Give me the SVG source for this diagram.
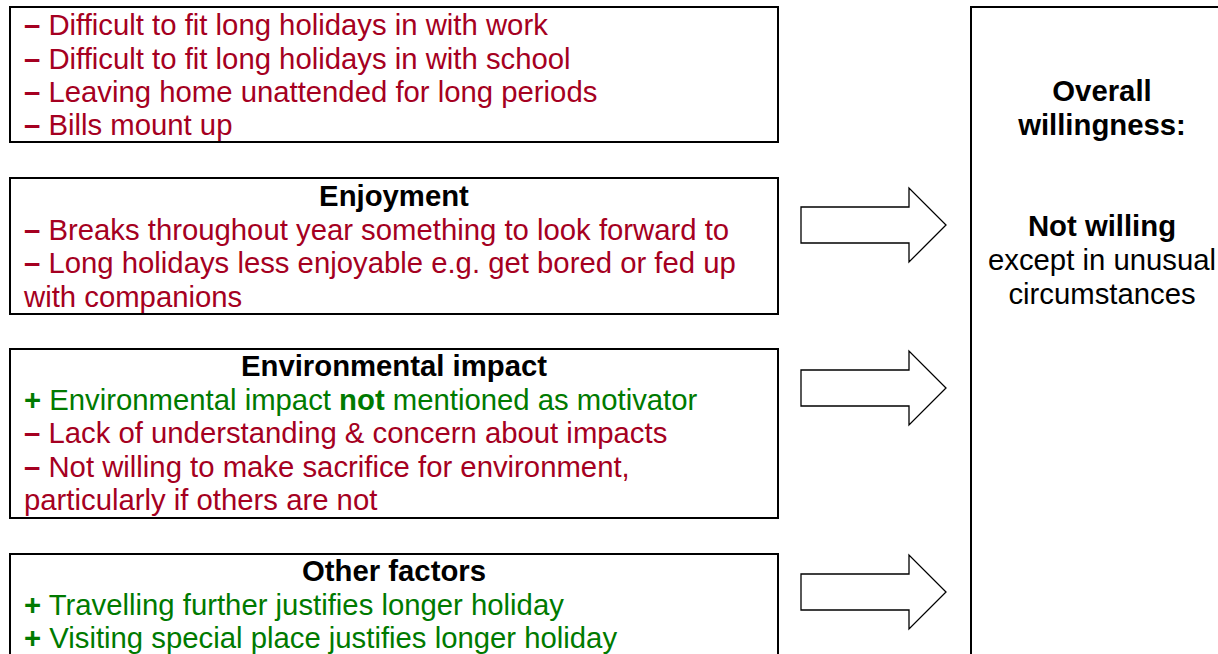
<svg xmlns="http://www.w3.org/2000/svg" width="1218" height="654" viewBox="0 0 1218 654">
  <style>
    .box { fill: #ffffff; stroke: #000000; stroke-width: 2; }
    .arrow { fill: #ffffff; stroke: #000000; stroke-width: 1.3; stroke-linejoin: miter; }
    text { font-family: "Liberation Sans", Arial, sans-serif; font-size: 29.3px; }
    .head { font-weight: bold; fill: #000000; text-anchor: middle; }
    .neg { fill: #A50021; }
    .pos { fill: #007A00; }
    .sign { font-weight: bold; }
    .res { fill: #000000; text-anchor: middle; }
    .b { font-weight: bold; }
  </style>
  <defs>
    <!-- block arrow pointing right, origin at shaft left / centre line -->
    <path id="blockArrow" d="M0,-18 H108 V-37 L145,0 L108,37 V18 H0 Z"/>
  </defs>
  <rect width="1218" height="654" fill="#ffffff"/>

  <!-- practical barriers -->
  <g id="practical">
    <rect class="box" x="10" y="7" width="768" height="135"/>
    <text class="neg" x="24" y="35"><tspan class="sign">–</tspan> Difficult to fit long holidays in with work</text>
    <text class="neg" x="24" y="69"><tspan class="sign">–</tspan> Difficult to fit long holidays in with school</text>
    <text class="neg" x="24" y="102"><tspan class="sign">–</tspan> Leaving home unattended for long periods</text>
    <text class="neg" x="24" y="135"><tspan class="sign">–</tspan> Bills mount up</text>
  </g>

  <g id="enjoyment">
    <rect class="box" x="10" y="178" width="768" height="136"/>
    <text class="head" x="394" y="206">Enjoyment</text>
    <text class="neg" x="24" y="240"><tspan class="sign">–</tspan> Breaks throughout year something to look forward to</text>
    <text class="neg" x="24" y="273"><tspan class="sign">–</tspan> Long holidays less enjoyable e.g. get bored or fed up</text>
    <text class="neg" x="24" y="307">with companions</text>
  </g>

  <g id="environmental">
    <rect class="box" x="10" y="349" width="768" height="169"/>
    <text class="head" x="394" y="376">Environmental impact</text>
    <text class="pos" x="24" y="410"><tspan class="sign">+</tspan> Environmental impact <tspan class="b">not</tspan> mentioned as motivator</text>
    <text class="neg" x="24" y="443"><tspan class="sign">–</tspan> Lack of understanding &amp; concern about impacts</text>
    <text class="neg" x="24" y="477"><tspan class="sign">–</tspan> Not willing to make sacrifice for environment,</text>
    <text class="neg" x="24" y="510">particularly if others are not</text>
  </g>

  <g id="other">
    <rect class="box" x="10" y="554" width="768" height="130"/>
    <text class="head" x="394" y="581">Other factors</text>
    <text class="pos" x="24" y="615"><tspan class="sign">+</tspan> Travelling further justifies longer holiday</text>
    <text class="pos" x="24" y="648"><tspan class="sign">+</tspan> Visiting special place justifies longer holiday</text>
  </g>

  <g id="overall">
    <rect class="box" x="971" y="7" width="280" height="680"/>
    <text class="res b" x="1102" y="101">Overall</text>
    <text class="res b" x="1102" y="135">willingness:</text>
    <text class="res b" x="1102" y="236">Not willing</text>
    <text class="res" x="1102" y="270">except in unusual</text>
    <text class="res" x="1102" y="304">circumstances</text>
  </g>

  <g id="connectors">
    <use href="#blockArrow" class="arrow" x="801" y="225"/>
    <use href="#blockArrow" class="arrow" x="801" y="388"/>
    <use href="#blockArrow" class="arrow" x="801" y="592"/>
  </g>
</svg>
